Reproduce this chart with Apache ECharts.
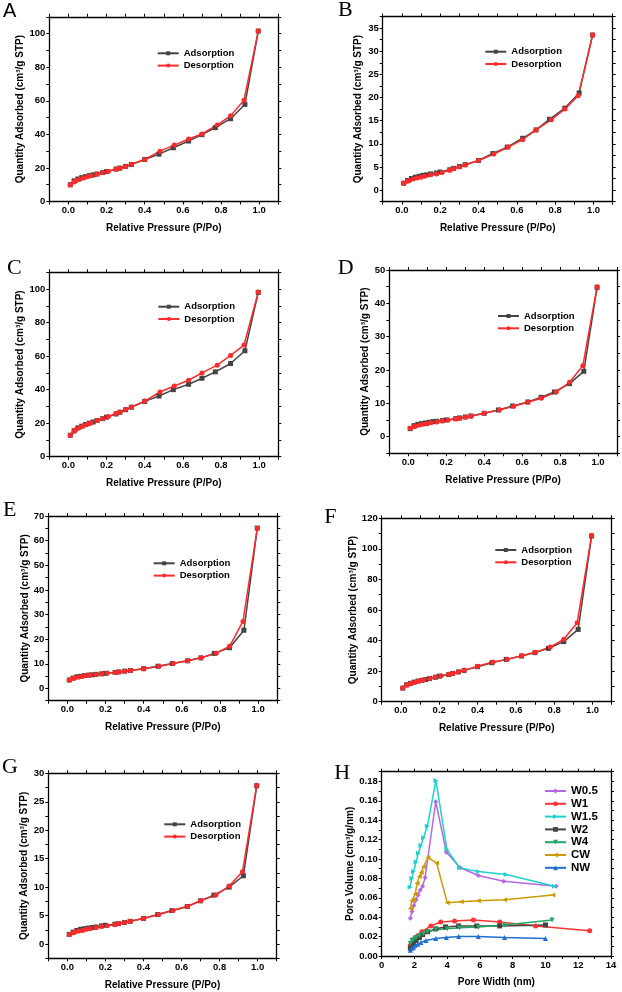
<!DOCTYPE html>
<html><head><meta charset="utf-8">
<script src="https://cdn.jsdelivr.net/npm/echarts@6/dist/echarts.min.js"></script>
<style>html,body{margin:0;padding:0;background:#fff}#c{width:622px;height:992px}</style>
</head><body><div id="c"></div><script>
// ---------- data ----------
const adsP = [0.01,0.03,0.05,0.07,0.09,0.11,0.13,0.15,0.18,0.20,0.25,0.27,0.30,0.33,0.40,0.475,0.55,0.63,0.70,0.77,0.85,0.925,0.995];
const desP = [0.995,0.92,0.85,0.78,0.70,0.63,0.555,0.48,0.40,0.33,0.30,0.27,0.25,0.21,0.18,0.15,0.12,0.10,0.08,0.06,0.04,0.03,0.01];

const adsA = [10.0,12.3,13.4,14.2,14.8,15.4,15.9,16.4,17.2,17.8,19.3,19.9,20.9,22.0,25.0,28.2,32.0,36.0,39.8,44.0,49.3,57.8,101.5];
const desA = [101.5,60.3,51.0,45.6,40.2,37.2,33.6,30.0,25.0,22.2,20.8,19.8,19.3,18.0,17.2,16.3,15.4,14.8,14.0,13.2,12.3,11.6,9.9];
const adsB = [1.5,2.1,2.5,2.8,3.0,3.2,3.3,3.5,3.7,3.9,4.4,4.7,5.1,5.5,6.4,7.9,9.3,11.2,13.0,15.3,17.7,21.0,33.5];
const desB = [33.5,20.4,17.5,15.2,13.0,10.9,9.3,7.8,6.4,5.4,5.0,4.6,4.3,3.8,3.5,3.3,3.0,2.8,2.6,2.4,2.1,1.9,1.5];
const adsC = [12.8,15.5,17.2,18.2,19.2,20.0,20.7,21.6,22.7,23.6,25.5,26.5,28.0,29.5,33.0,36.2,40.0,43.2,46.8,50.6,55.6,63.2,98.0];
const desC = [98.2,66.6,60.4,54.6,50.0,45.6,42.2,38.6,33.2,29.6,28.2,26.6,25.8,24.0,22.8,21.6,20.2,19.4,18.4,17.4,16.2,15.2,12.8];
const adsD = [2.4,3.3,3.7,3.9,4.1,4.3,4.5,4.6,4.8,5.0,5.4,5.6,5.9,6.2,7.0,8.0,9.2,10.4,11.8,13.4,15.9,19.6,44.8];
const desD = [45.0,21.3,16.3,13.4,11.5,10.3,9.1,8.0,7.0,6.1,5.8,5.5,5.3,5.0,4.7,4.4,4.2,3.9,3.7,3.5,3.2,3.0,2.5];
const adsE = [3.4,4.2,4.7,4.9,5.2,5.4,5.5,5.7,5.9,6.1,6.5,6.7,7.0,7.3,8.0,9.0,10.1,11.2,12.4,14.2,16.5,23.6,65.1];
const desE = [65.0,27.2,17.1,14.3,12.4,11.2,10.1,9.0,8.0,7.3,7.0,6.7,6.5,6.2,5.9,5.6,5.4,5.2,4.9,4.6,4.3,4.0,3.4];
const adsF = [8.9,11.1,12.0,12.8,13.5,14.0,14.5,15.2,16.0,16.7,17.8,18.5,19.5,20.5,22.9,25.5,27.7,29.9,32.1,34.9,39.3,47.3,108.4];
const desF = [108.8,51.7,40.8,35.8,32.3,30.1,27.7,26.0,23.2,20.5,19.5,18.5,17.9,16.9,16.0,15.2,14.3,13.7,13.0,12.2,11.4,10.8,9.0];
const adsG = [1.7,2.1,2.4,2.6,2.7,2.8,2.9,3.0,3.2,3.3,3.5,3.6,3.8,4.0,4.5,5.2,5.9,6.6,7.6,8.6,10.0,12.0,27.8];
const desG = [27.9,12.7,10.2,8.6,7.6,6.6,5.9,5.2,4.5,4.0,3.8,3.6,3.4,3.2,3.1,2.9,2.7,2.6,2.4,2.3,2.1,2.0,1.7];

const isoNames = ['Adsorption','Desorption'];

// panel H: pore size distribution
const hNames = ['W0.5','W1','W1.5','W2','W4','CW','NW'];
const wX_W05 = [1.75,1.85,1.97,2.1,2.22,2.35,2.5,2.65,3.3,3.95,4.8,5.9,7.45,10.65];
const wY_W05 = [0.039,0.046,0.052,0.058,0.063,0.068,0.072,0.081,0.159,0.107,0.091,0.083,0.077,0.072];
const wX_W1 = [1.75,1.9,2.05,2.2,2.45,3.0,3.6,4.45,5.6,7.2,9.4,12.7];
const wY_W1 = [0.011,0.015,0.019,0.021,0.025,0.031,0.035,0.036,0.037,0.035,0.031,0.026];
const wX_W15 = [1.73,1.84,1.94,2.1,2.24,2.39,2.55,2.79,3.31,3.98,4.75,5.9,7.6,10.55];
const wY_W15 = [0.071,0.080,0.087,0.097,0.106,0.114,0.122,0.134,0.181,0.110,0.091,0.087,0.084,0.072];
const wX_W2 = [1.75,1.85,1.95,2.1,2.3,2.5,2.8,3.3,3.9,4.7,5.8,7.2,10.0];
const wY_W2 = [0.008,0.011,0.013,0.016,0.019,0.022,0.025,0.028,0.030,0.031,0.031,0.031,0.032];
const wX_W4 = [1.75,1.85,1.95,2.1,2.3,2.55,2.8,3.3,4.0,4.75,5.9,7.5,10.4];
const wY_W4 = [0.013,0.016,0.017,0.019,0.021,0.023,0.025,0.027,0.028,0.029,0.030,0.032,0.037];
const wX_CW = [1.75,1.84,1.95,2.05,2.16,2.3,2.41,2.55,2.82,3.35,4.0,4.85,5.9,7.5,10.45];
const wY_CW = [0.049,0.057,0.058,0.064,0.075,0.082,0.086,0.092,0.1015,0.096,0.055,0.056,0.057,0.058,0.063];
const wX_NW = [1.75,1.85,1.95,2.05,2.2,2.4,2.7,3.3,3.95,4.7,5.9,7.5,10.0];
const wY_NW = [0.006,0.008,0.009,0.011,0.012,0.014,0.016,0.018,0.019,0.020,0.020,0.019,0.018];

// ---------- styling / layout ----------
const FONT = 'Liberation Sans, Arial, sans-serif';
const zip = (xs, ys) => xs.map((x, i) => [x, ys[i]]);
function fmt(major, dec) {
  return function (v) {
    const r = v / major;
    if (Math.abs(r - Math.round(r)) > 1e-6) return '';
    const vv = Math.abs(v) < 1e-9 ? 0 : v;
    return vv.toFixed(dec);
  };
}
const P_AXIS = {min:-0.1, max:1.1, step:0.1, major:0.2, dec:1, name:'Relative Pressure (P/Po)'};
const Y_NAME = 'Quantity Adsorbed (cm³/g STP)';

const panels = [
  {L:'A', serif:false, lx:3, ly:11, ads:adsA, des:desA, g:[49.3,16.8,229,184.7], y:{min:0,max:110,step:10,major:20,dec:0}, yGap:24, lg:[156.7,48.3]},
  {L:'B', serif:true, lx:338, ly:10.5, ads:adsB, des:desB, g:[382.7,16.5,230,185.2], y:{min:-2.5,max:37.5,step:2.5,major:5,dec:0}, yGap:19.5, lg:[484.3,46.7]},
  {L:'C', serif:true, lx:7, ly:268, ads:adsC, des:desC, g:[49.3,272.3,229,184.4], y:{min:0,max:110,step:10,major:20,dec:0}, yGap:24, lg:[157.3,301.7]},
  {L:'D', serif:true, lx:337.7, ly:268.3, ads:adsD, des:desD, g:[389.3,270,227.7,183.3], y:{min:-5,max:50,step:5,major:10,dec:0}, yGap:18.8, lg:[497,311]},
  {L:'E', serif:true, lx:3, ly:510.5, ads:adsE, des:desE, g:[48.3,516,229,184.7], y:{min:-5,max:70,step:5,major:10,dec:0}, yGap:17.8, lg:[152.7,558.3]},
  {L:'F', serif:true, lx:324.3, ly:517, ads:adsF, des:desF, g:[381.7,518.3,230,183.4], y:{min:0,max:120,step:10,major:20,dec:0}, yGap:22.8, lg:[494.3,545]},
  {L:'G', serif:true, lx:2, ly:767.5, ads:adsG, des:desG, g:[48.3,773.3,228.4,185], y:{min:-2.5,max:30,step:2.5,major:5,dec:0}, yGap:18.8, lg:[163.3,819.3]}
];
const H = {L:'H', lx:334.3, ly:773.3, g:[381.7,771.7,229.3,184.3],
  x:{min:0,max:14,step:1,major:2,dec:0,name:'Pore Width (nm)'},
  y:{min:0,max:0.19,step:0.01,major:0.02,dec:2}, yName:'Pore Volume (cm³/g/nm)', yGap:26.8, lg:[544,785]};

const grids = [], xAxes = [], yAxes = [], series = [], legends = [], graphics = [];
const labelStyle = {fontFamily:FONT, fontWeight:'bold', fontSize:9.5, color:'#000'};
const nameStyle = {fontFamily:FONT, fontWeight:'bold', fontSize:10, color:'#000'};

function axisCommon(gi, pos, sc, withLabel, name, nameGap) {
  return {
    type:'value', gridIndex:gi, position:pos, min:sc.min, max:sc.max, interval:sc.step,
    axisLine:{show:true, onZero:false, lineStyle:{color:'#000', width:1.3}},
    axisTick:{show:true, inside:false, length:3, lineStyle:{color:'#000', width:1}},
    axisLabel:Object.assign({show:withLabel, margin:4, formatter:fmt(sc.major, sc.dec), showMinLabel:true, showMaxLabel:true}, labelStyle),
    splitLine:{show:false},
    name: withLabel ? name : '', nameLocation:'middle', nameGap:nameGap, nameTextStyle:nameStyle
  };
}
function addGrid(g, xs, ys, xName, yName, yGap) {
  const gi = grids.length;
  grids.push({left:g[0], top:g[1], width:g[2], height:g[3], containLabel:false});
  xAxes.push(axisCommon(gi, 'bottom', xs, true, xName, 21.5));
  xAxes.push(axisCommon(gi, 'top', xs, false, '', 0));
  yAxes.push(axisCommon(gi, 'left', ys, true, yName, yGap));
  yAxes.push(axisCommon(gi, 'right', ys, false, '', 0));
  return gi;
}
function lineSeries(name, data, gi, color, symbol, rot) {
  return {type:'line', name:name, data:data, xAxisIndex:2*gi, yAxisIndex:2*gi,
    symbol:symbol, symbolSize:5, symbolRotate:rot || 0, showSymbol:true,
    lineStyle:{color:color, width:1.5}, itemStyle:{color:color}, animation:false};
}
function letter(L, x, y, serif) {
  graphics.push({type:'text', x:x, y:y, style:{text:L, x:0, y:0,
    font: serif ? '22px "Liberation Serif", "Times New Roman", serif' : '20px "Liberation Sans", Arial, sans-serif',
    fill:'#000', textAlign:'left', textVerticalAlign:'middle'}});
}

panels.forEach(p => {
  const gi = addGrid(p.g, P_AXIS, p.y, P_AXIS.name, Y_NAME, p.yGap);
  series.push(lineSeries(isoNames[0], zip(adsP, p.ads), gi, '#444444', 'rect'));
  series.push(lineSeries(isoNames[1], zip(desP, p.des), gi, '#ff2b2b', 'circle'));
  legends.push({orient:'vertical', left:p.lg[0], top:p.lg[1], padding:0, itemWidth:21, itemHeight:5, itemGap:2.3,
    textStyle:Object.assign({lineHeight:10}, labelStyle), data:isoNames.slice()});
  letter(p.L, p.lx, p.ly, p.serif);
});

{
  const gi = addGrid(H.g, H.x, H.y, H.x.name, H.yName, H.yGap);
  const hSeries = [
    [wX_W05, wY_W05, '#b469e0', 'diamond', 0],
    [wX_W1, wY_W1, '#ff3333', 'circle', 0],
    [wX_W15, wY_W15, '#1fd0cc', 'triangle', -90],
    [wX_W2, wY_W2, '#444444', 'rect', 0],
    [wX_W4, wY_W4, '#22a862', 'triangle', 180],
    [wX_CW, wY_CW, '#cc9a00', 'triangle', 90],
    [wX_NW, wY_NW, '#1f6fd0', 'triangle', 0]
  ];
  hSeries.forEach((s, i) => series.push(lineSeries(hNames[i], zip(s[0], s[1]), gi, s[2], s[3], s[4])));
  legends.push({orient:'vertical', left:H.lg[0], top:H.lg[1], padding:0, itemWidth:21, itemHeight:6, itemGap:0.8,
    textStyle:Object.assign({}, labelStyle, {fontSize:11.5, lineHeight:12}), data:hNames.slice()});
  letter(H.L, H.lx, H.ly, true);
}

const chart = echarts.init(document.getElementById('c'), null, {renderer:'canvas'});
chart.setOption({
  backgroundColor:'#fff', animation:false,
  grid:grids, xAxis:xAxes, yAxis:yAxes, series:series, legend:legends, graphic:graphics
});
</script></body></html>
